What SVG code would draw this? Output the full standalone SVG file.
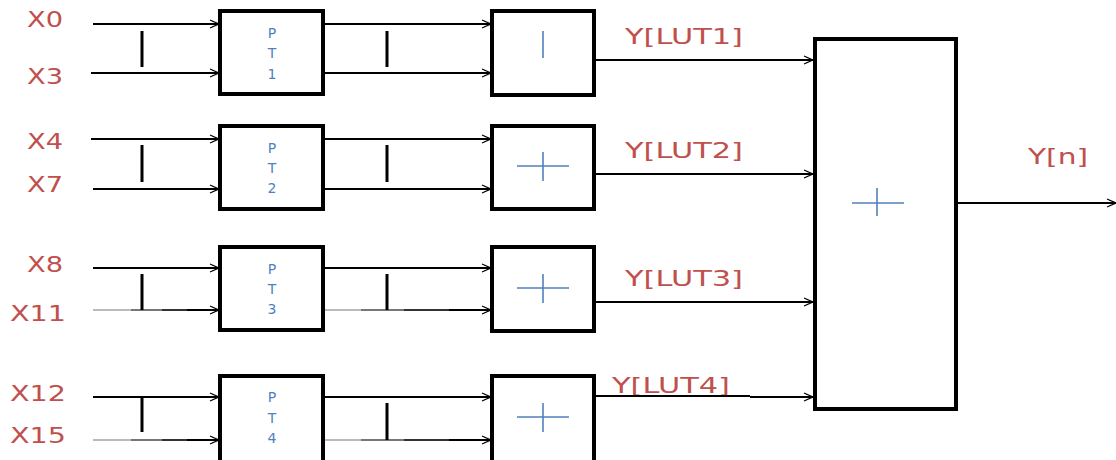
<svg xmlns="http://www.w3.org/2000/svg" width="1116" height="460" viewBox="0 0 1116 460">
<style>
.box{fill:#fff;stroke:#000;stroke-width:4}
.ln{stroke:#000;stroke-width:2;fill:none}
.bar{stroke:#000;stroke-width:3}
.lbl{font-family:"DejaVu Sans",sans-serif;font-size:22px;fill:#c0504d}
.pt{font-family:"DejaVu Sans",sans-serif;font-size:14px;fill:#4f81bd;text-anchor:middle}
.plus{stroke:#4f81bd;stroke-width:1.6;fill:none}
</style>
<defs>
<marker id="ah" markerUnits="userSpaceOnUse" markerWidth="12" markerHeight="10" refX="10" refY="5" orient="auto">
<path d="M1,1 L10,5 L1,9 M3,2 L10,5 M3,8 L10,5" fill="none" stroke="#000" stroke-width="1.2"/>
</marker>
<linearGradient id="gin" gradientUnits="userSpaceOnUse" x1="93" y1="0" x2="219" y2="0">
<stop offset="0" stop-color="#bbb"/>
<stop offset="0.3" stop-color="#bbb"/>
<stop offset="0.3" stop-color="#777"/>
<stop offset="0.55" stop-color="#777"/>
<stop offset="0.55" stop-color="#333"/>
<stop offset="0.75" stop-color="#333"/>
<stop offset="0.75" stop-color="#000"/>
</linearGradient>
<linearGradient id="gmid" gradientUnits="userSpaceOnUse" x1="324" y1="0" x2="491" y2="0">
<stop offset="0" stop-color="#bbb"/>
<stop offset="0.22" stop-color="#bbb"/>
<stop offset="0.22" stop-color="#777"/>
<stop offset="0.48" stop-color="#777"/>
<stop offset="0.48" stop-color="#333"/>
<stop offset="0.75" stop-color="#333"/>
<stop offset="0.75" stop-color="#000"/>
</linearGradient>
</defs>

<g id="labels">
<text class="lbl" x="27" y="27" textLength="36" lengthAdjust="spacingAndGlyphs">X0</text>
<text class="lbl" x="27" y="84" textLength="36" lengthAdjust="spacingAndGlyphs">X3</text>
<text class="lbl" x="27" y="149" textLength="36" lengthAdjust="spacingAndGlyphs">X4</text>
<text class="lbl" x="27" y="192" textLength="36" lengthAdjust="spacingAndGlyphs">X7</text>
<text class="lbl" x="27" y="272" textLength="36" lengthAdjust="spacingAndGlyphs">X8</text>
<text class="lbl" x="10" y="321" textLength="56" lengthAdjust="spacingAndGlyphs">X11</text>
<text class="lbl" x="10" y="401" textLength="56" lengthAdjust="spacingAndGlyphs">X12</text>
<text class="lbl" x="10" y="443" textLength="56" lengthAdjust="spacingAndGlyphs">X15</text>
<text class="lbl" x="625" y="44" textLength="118" lengthAdjust="spacingAndGlyphs">Y[LUT1]</text>
<text class="lbl" x="625" y="158" textLength="118" lengthAdjust="spacingAndGlyphs">Y[LUT2]</text>
<text class="lbl" x="625" y="286" textLength="118" lengthAdjust="spacingAndGlyphs">Y[LUT3]</text>
<text class="lbl" x="612" y="393" textLength="118" lengthAdjust="spacingAndGlyphs">Y[LUT4]</text>
<text class="lbl" x="1028" y="164" textLength="60" lengthAdjust="spacingAndGlyphs">Y[n]</text>
</g>

<g id="connectors">
<line class="ln" x1="93" y1="24" x2="219" y2="24" marker-end="url(#ah)"/>
<line class="ln" x1="91" y1="73" x2="219" y2="73" marker-end="url(#ah)"/>
<line class="ln" x1="91" y1="139" x2="219" y2="139" marker-end="url(#ah)"/>
<line class="ln" x1="93" y1="189" x2="219" y2="189" marker-end="url(#ah)"/>
<line class="ln" x1="93" y1="268" x2="219" y2="268" marker-end="url(#ah)"/>
<line class="ln" x1="93" y1="310" x2="219" y2="310" style="stroke:url(#gin)" marker-end="url(#ah)"/>
<line class="ln" x1="93" y1="397" x2="219" y2="397" marker-end="url(#ah)"/>
<line class="ln" x1="93" y1="440" x2="219" y2="440" style="stroke:url(#gin)" marker-end="url(#ah)"/>
<line class="bar" x1="142" y1="31" x2="142" y2="67"/>
<line class="bar" x1="142" y1="145" x2="142" y2="182"/>
<line class="bar" x1="142" y1="274" x2="142" y2="310"/>
<line class="bar" x1="142" y1="397" x2="142" y2="432"/>
<line class="ln" x1="324" y1="24" x2="491" y2="24" marker-end="url(#ah)"/>
<line class="ln" x1="324" y1="73" x2="491" y2="73" marker-end="url(#ah)"/>
<line class="ln" x1="324" y1="139" x2="491" y2="139" marker-end="url(#ah)"/>
<line class="ln" x1="324" y1="189" x2="491" y2="189" marker-end="url(#ah)"/>
<line class="ln" x1="324" y1="268" x2="491" y2="268" marker-end="url(#ah)"/>
<line class="ln" x1="324" y1="310" x2="491" y2="310" style="stroke:url(#gmid)" marker-end="url(#ah)"/>
<line class="ln" x1="324" y1="397" x2="491" y2="397" marker-end="url(#ah)"/>
<line class="ln" x1="324" y1="440" x2="491" y2="440" style="stroke:url(#gmid)" marker-end="url(#ah)"/>
<line class="bar" x1="387" y1="31" x2="387" y2="67"/>
<line class="bar" x1="387" y1="145" x2="387" y2="182"/>
<line class="bar" x1="387" y1="274" x2="387" y2="310"/>
<line class="bar" x1="387" y1="403" x2="387" y2="440"/>
<line class="ln" x1="595" y1="60" x2="813" y2="60" marker-end="url(#ah)"/>
<line class="ln" x1="595" y1="174" x2="813" y2="174" stroke-width="1.5" marker-end="url(#ah)"/>
<line class="ln" x1="595" y1="302" x2="813" y2="302" stroke-width="1.5" marker-end="url(#ah)"/>
<line class="ln" x1="595" y1="396" x2="750" y2="396" stroke-width="1.2"/>
<line class="ln" x1="750" y1="397" x2="813" y2="397" marker-end="url(#ah)"/>
<line class="ln" x1="957" y1="203" x2="1116" y2="203" stroke-width="1.5" marker-end="url(#ah)"/>
</g>

<g id="pt1"><rect class="box" x="220" y="11" width="103" height="83"/>
<text class="pt" x="272" y="38">P</text><text class="pt" x="272" y="58">T</text><text class="pt" x="272" y="79">1</text></g>
<g id="pt2"><rect class="box" x="220" y="126" width="103" height="83"/>
<text class="pt" x="272" y="153">P</text><text class="pt" x="272" y="173">T</text><text class="pt" x="272" y="193">2</text></g>
<g id="pt3"><rect class="box" x="220" y="247" width="103" height="83"/>
<text class="pt" x="272" y="274">P</text><text class="pt" x="272" y="294">T</text><text class="pt" x="272" y="314">3</text></g>
<g id="pt4"><rect class="box" x="220" y="376" width="103" height="90"/>
<text class="pt" x="272" y="402">P</text><text class="pt" x="272" y="423">T</text><text class="pt" x="272" y="443">4</text></g>

<g id="add1"><rect class="box" x="492" y="11" width="102" height="84"/>
<line class="plus" x1="543" y1="31" x2="543" y2="58"/></g>
<g id="add2"><rect class="box" x="492" y="126" width="102" height="83"/>
<line class="plus" x1="517" y1="166" x2="569" y2="166"/><line class="plus" x1="543" y1="152" x2="543" y2="181"/></g>
<g id="add3"><rect class="box" x="492" y="247" width="102" height="84"/>
<line class="plus" x1="517" y1="288" x2="569" y2="288"/><line class="plus" x1="543" y1="274" x2="543" y2="303"/></g>
<g id="add4"><rect class="box" x="492" y="376" width="102" height="90"/>
<line class="plus" x1="517" y1="417" x2="569" y2="417"/><line class="plus" x1="543" y1="403" x2="543" y2="432"/></g>

<g id="sum"><rect class="box" x="815" y="39" width="141" height="370"/>
<line class="plus" x1="852" y1="203" x2="904" y2="203"/><line class="plus" x1="877" y1="188" x2="877" y2="216"/></g>
</svg>
